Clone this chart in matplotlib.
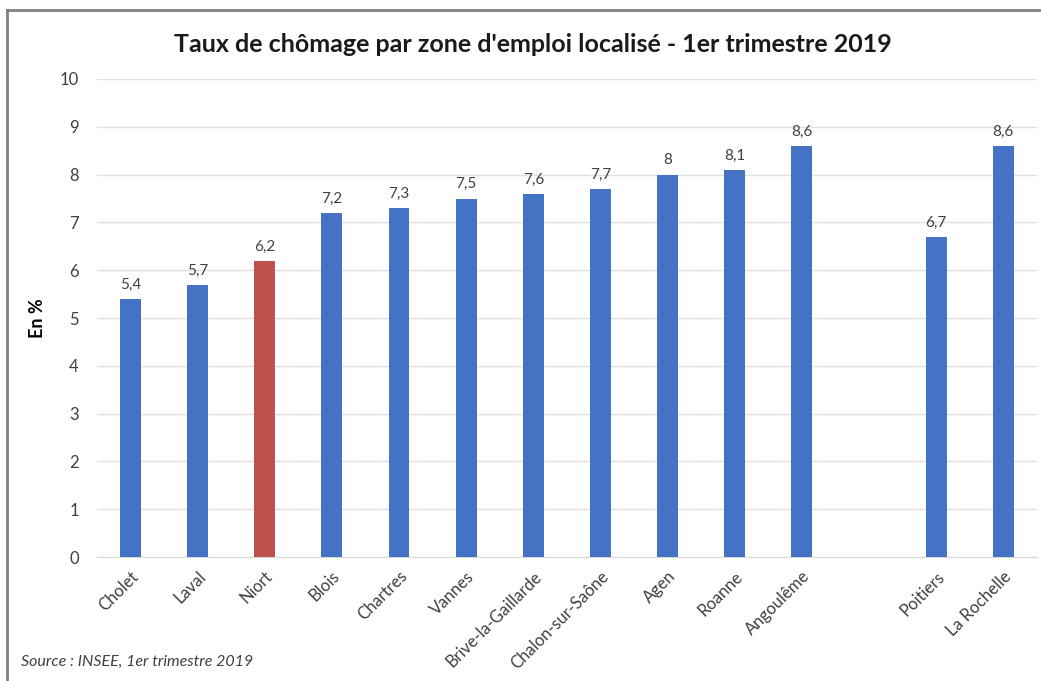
import numpy as np
import matplotlib.pyplot as plt
from matplotlib.lines import Line2D

plt.rcParams['font.family'] = ['Lato', 'DejaVu Sans']

# data; the empty slot is the gap before Poitiers
villes = ['Cholet', 'Laval', 'Niort', 'Blois', 'Chartres', 'Vannes',
          'Brive-la-Gaillarde', 'Chalon-sur-Saône', 'Agen', 'Roanne',
          'Angoulême', '', 'Poitiers', 'La Rochelle']
taux = [5.4, 5.7, 6.2, 7.2, 7.3, 7.5, 7.6, 7.7, 8.0, 8.1, 8.6, np.nan, 6.7, 8.6]
etiquettes = ['5,4', '5,7', '6,2', '7,2', '7,3', '7,5', '7,6', '7,7', '8', '8,1',
              '8,6', '', '6,7', '8,6']
couleurs = ['#C0504D' if v == 'Niort' else '#4472C4' for v in villes]

fig = plt.figure(figsize=(10.41, 6.81), dpi=100)
ax = fig.add_axes([0.093, 0.182, 0.903, 0.702])

x = np.arange(len(villes))
bars = ax.bar(x, taux, width=0.31, color=couleurs, zorder=3)

for xi, val, lab in zip(x, taux, etiquettes):
    if lab:
        ax.text(xi, val + 0.15, lab, ha='center', va='bottom',
                fontsize=11, color='#404040')

ax.set_ylim(0, 10)
ax.set_xlim(-0.5, len(villes) - 0.5)
ax.set_yticks(range(0, 11))
ax.grid(axis='y', color='#e0e0e0', linewidth=1, zorder=0)
for s in ['top', 'right', 'left']:
    ax.spines[s].set_visible(False)
ax.spines['bottom'].set_color('#d9d9d9')

ax.set_xticks(x)
ax.set_xticklabels(villes, rotation=45, ha='right', rotation_mode='anchor',
                   fontsize=12, color='#404040')
ax.tick_params(axis='x', length=0, pad=8)
ax.tick_params(axis='y', length=0, pad=13, labelsize=12, labelcolor='#404040')
ax.set_ylabel('En %', fontsize=13, fontweight='bold', labelpad=10)

fig.text(0.512, 0.935, "Taux de chômage par zone d'emploi localisé - 1er trimestre 2019",
         ha='center', va='center', fontsize=18, fontweight='bold', color='#1a1a1a')
fig.text(0.02, 0.028, 'Source : INSEE, 1er trimestre 2019', fontsize=11.5,
         style='italic', color='#404040', va='center')

# frame of the original capture
fig.add_artist(Line2D([0.007, 1.0], [0.985, 0.985], color='#808080', linewidth=2))
fig.add_artist(Line2D([0.007, 0.007], [0.0, 0.985], color='#808080', linewidth=2))

fig.savefig('out.png', dpi=100)
